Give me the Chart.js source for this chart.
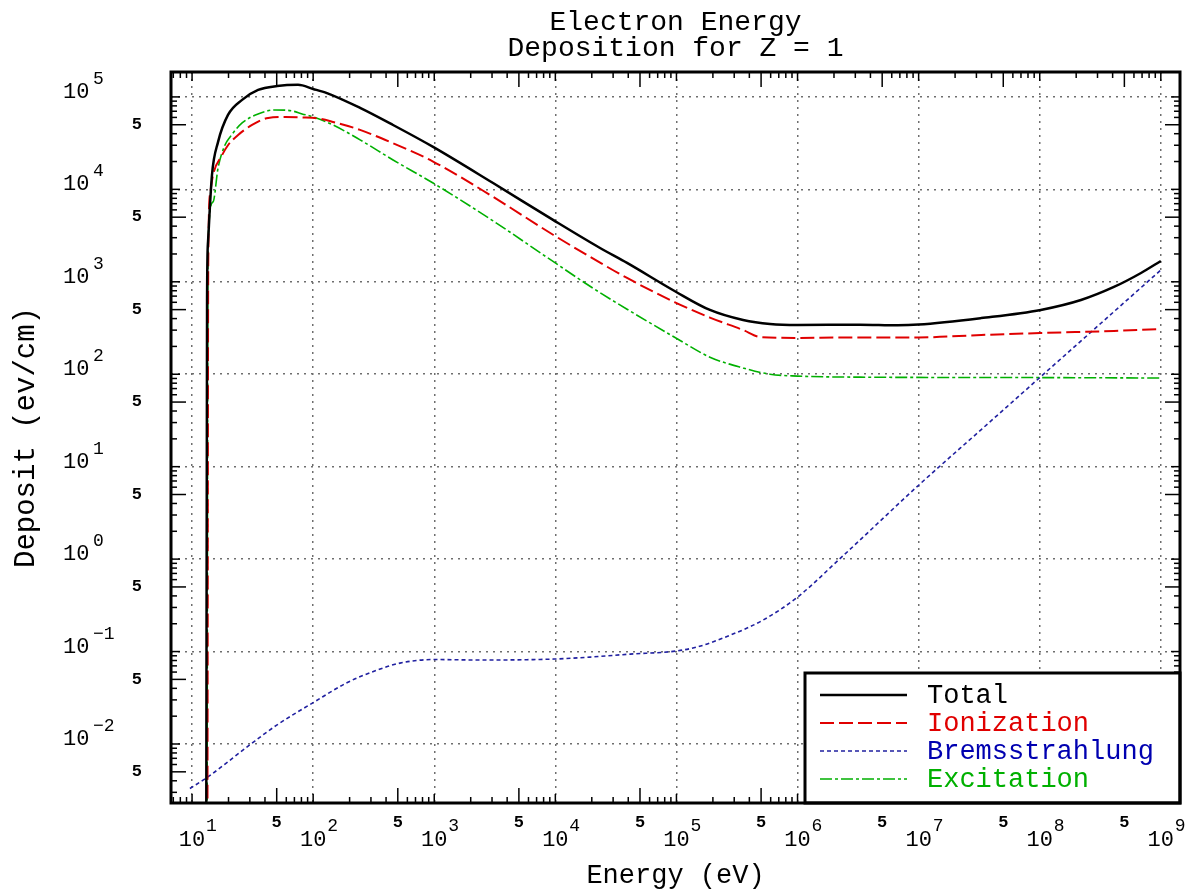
<!DOCTYPE html>
<html>
<head>
<meta charset="utf-8">
<title>Electron Energy Deposition for Z = 1</title>
<script src="https://cdn.jsdelivr.net/npm/chart.js@4.4.1/dist/chart.umd.min.js"></script>
<style>
  html, body { margin: 0; padding: 0; background: #fff; }
  canvas { display: block; }
</style>
</head>
<body>
<canvas id="chart" width="1199" height="892"></canvas>
<script>
// Values (energy in eV, deposit in eV/cm)
let totalE = [13.1, 13.3, 13.55, 14.6, 16.4, 19.8, 25.9, 35.1, 50.4, 75, 100, 130, 244, 457, 978, 3060, 9570, 23400, 39100, 97300, 189000, 355000, 593000, 1e6, 3.28e6, 6.7e6, 1e7, 3.29e7, 1.02e8, 2.19e8, 4.1e8, 6.86e8, 1e9];
let totalV = [0.001, 635, 2700, 14300, 32600, 63800, 92900, 119000, 131000, 135000, 122000, 110000, 76100, 49700, 28800, 11700, 4670, 2320, 1600, 790, 496, 386, 349, 340, 344, 339, 345, 405, 496, 635, 879, 1245, 1680];

let ionE = [13.4, 13.6, 14.1, 14.9, 17.7, 19.8, 24, 31.3, 42.5, 58.6, 81, 114, 146, 244, 457, 978, 3060, 9570, 23400, 39100, 97300, 189000, 355000, 490000, 1e6, 2.4e6, 1e7, 3.29e7, 1.02e8, 4.1e8, 1e9];
let ionV = [0.001, 1500, 9000, 14300, 23500, 30000, 38800, 49700, 59300, 60800, 60000, 58000, 53600, 44000, 31500, 20000, 8300, 3230, 1610, 1100, 600, 410, 301, 253, 247, 250, 250, 266, 279, 294, 309];

let bremE = [9.6, 13.5, 30, 50, 100, 190, 337, 521, 980, 2390, 9770, 19400, 41400, 97300, 148000, 277000, 519000, 1e6, 2.22e6, 1e7, 3.29e7, 1e8, 3.2e8, 1e9];
let bremV = [0.0033, 0.0044, 0.0098, 0.016, 0.028, 0.046, 0.063, 0.075, 0.082, 0.081, 0.083, 0.0871, 0.0938, 0.101, 0.112, 0.150, 0.219, 0.388, 1.0, 6.3, 25.2, 92, 356, 1340];

let excE = [13.3, 13.55, 14.9, 16.4, 18.7, 20.6, 25.9, 35.1, 48.4, 67, 81, 100, 146, 244, 457, 978, 3060, 9570, 20500, 39100, 97300, 189000, 355000, 593000, 1e6, 3.28e6, 1e8, 1e9];
let excV = [0.001, 2700, 7310, 17100, 30200, 36900, 52300, 65500, 72300, 70500, 65500, 60800, 49700, 34300, 20800, 11700, 4560, 1660, 851, 505, 250, 153, 117, 100, 95.5, 93, 92, 91];

// Axis ranges and labelled decades
let xMin = 6.7, xMax = 1.44e9;
let yMin = 2.3e-3, yMax = 1.86e5;
let xDecades = [1, 2, 3, 4, 5, 6, 7, 8, 9];
let yDecades = [-2, -1, 0, 1, 2, 3, 4, 5];

let fontFam = "'Liberation Mono', 'DejaVu Sans Mono', monospace";
let supDigits = { '0': '0', '1': '1', '2': '2', '3': '3', '4': '4', '5': '5', '6': '6', '7': '7', '8': '8', '9': '9', '-': '\u2212' };

function toPoints(es, vs) {
    return es.map((e, i) => ({ x: e, y: vs[i] }));
}

// all 1..9 x 10^n values inside the range, used for ticks
function logTicks(min, max) {
    let out = [];
    for (let e = Math.floor(Math.log10(min)); e <= Math.ceil(Math.log10(max)); e++) {
        for (let m = 1; m <= 9; m++) {
            let v = m * Math.pow(10, e);
            if (v >= min && v <= max) out.push({ value: v });
        }
    }
    return out;
}

function mantissa(v) {
    let e = Math.floor(Math.log10(v) + 1e-9);
    return Math.round(v / Math.pow(10, e));
}

function isDecade(v) {
    return v > 0 && mantissa(v) === 1;
}

function tickLen(v) {
    let m = mantissa(v);
    if (m === 5) return 15;
    if (m === 1) return 9;
    return 6;
}

function drawLine(ctx, x1, y1, x2, y2) {
    ctx.beginPath();
    ctx.moveTo(x1, y1);
    ctx.lineTo(x2, y2);
    ctx.stroke();
}

function supText(e) {
    return String(e).split('').map(c => supDigits[c]).join('');
}

// frame with inward ticks, decade labels, title and legend box
let framePlugin = {
    id: 'frame',
    afterDatasetsDraw(chart) {
        let ctx = chart.ctx;
        let a = chart.chartArea;
        let xs = chart.scales.x, ys = chart.scales.y;
        ctx.save();
        ctx.strokeStyle = '#000';
        ctx.lineWidth = 1.5;
        xs.ticks.forEach(t => {
            let px = xs.getPixelForValue(t.value);
            let len = tickLen(t.value);
            drawLine(ctx, px, a.bottom, px, a.bottom - len);
            drawLine(ctx, px, a.top, px, a.top + len);
        });
        ys.ticks.forEach(t => {
            let py = ys.getPixelForValue(t.value);
            let len = tickLen(t.value);
            drawLine(ctx, a.left, py, a.left + len, py);
            drawLine(ctx, a.right, py, a.right - len, py);
        });

        // legend
        let bw = 375, bh = 130;
        let bx = a.right - bw, by = a.bottom - bh;
        ctx.fillStyle = '#fff';
        ctx.fillRect(bx, by, bw, bh);
        let legendColors = ['#000000', '#e00000', '#0000b0', '#00b000'];
        chart.data.datasets.forEach((ds, i) => {
            let yy = by + 22 + i * 28;
            ctx.save();
            ctx.strokeStyle = ds.borderColor;
            ctx.lineWidth = ds.borderWidth;
            ctx.setLineDash(ds.borderDash || []);
            drawLine(ctx, bx + 15, yy, bx + 102, yy);
            ctx.restore();
            ctx.fillStyle = legendColors[i];
            ctx.font = '27px ' + fontFam;
            ctx.textAlign = 'left';
            ctx.textBaseline = 'middle';
            ctx.fillText(ds.label, bx + 122, yy + 1);
        });
        ctx.lineWidth = 3;
        ctx.strokeRect(bx, by, bw, bh);
        ctx.strokeRect(a.left, a.top, a.width, a.height);
        ctx.restore();
    },
    afterDraw(chart) {
        let ctx = chart.ctx;
        let a = chart.chartArea;
        let xs = chart.scales.x, ys = chart.scales.y;
        ctx.save();
        ctx.fillStyle = '#000';
        ctx.textBaseline = 'alphabetic';

        // energy decades: 10 centred on the tick, exponent raised
        xDecades.forEach(e => {
            let px = xs.getPixelForValue(Math.pow(10, e));
            ctx.font = '22px ' + fontFam;
            ctx.textAlign = 'center';
            ctx.fillText('10', px, 846);
            ctx.font = '18px ' + fontFam;
            ctx.textAlign = 'left';
            ctx.fillText(supText(e), px + 14, 831);
        });

        // deposit decades: 10 left aligned at a common column
        yDecades.forEach(e => {
            let py = ys.getPixelForValue(Math.pow(10, e));
            ctx.font = '22px ' + fontFam;
            ctx.textAlign = 'left';
            ctx.fillText('10', 63, py + 1);
            ctx.font = '18px ' + fontFam;
            ctx.fillText(supText(e), 93, py - 13);
        });

        // title
        let cx = (a.left + a.right) / 2;
        ctx.font = '28px ' + fontFam;
        ctx.textAlign = 'center';
        ctx.fillText('Electron Energy', cx, 30);
        ctx.fillText('Deposition for Z = 1', cx, 56);
        ctx.restore();
    }
};

let ctx = document.getElementById('chart').getContext('2d');

new Chart(ctx, {
    type: 'line',
    data: {
        datasets: [
            {
                label: 'Total',
                data: toPoints(totalE, totalV),
                borderColor: '#000000',
                borderWidth: 2.5,
                pointRadius: 0,
                fill: false,
                cubicInterpolationMode: 'monotone'
            },
            {
                label: 'Ionization',
                data: toPoints(ionE, ionV),
                borderColor: '#e00000',
                borderWidth: 2,
                borderDash: [14, 5],
                pointRadius: 0,
                fill: false,
                cubicInterpolationMode: 'monotone'
            },
            {
                label: 'Bremsstrahlung',
                data: toPoints(bremE, bremV),
                borderColor: '#2020a0',
                borderWidth: 1.6,
                borderDash: [4, 3],
                pointRadius: 0,
                fill: false,
                cubicInterpolationMode: 'monotone'
            },
            {
                label: 'Excitation',
                data: toPoints(excE, excV),
                borderColor: '#00b000',
                borderWidth: 1.6,
                borderDash: [12, 3, 3, 3],
                pointRadius: 0,
                fill: false,
                cubicInterpolationMode: 'monotone'
            }
        ]
    },
    options: {
        responsive: false,
        animation: false,
        devicePixelRatio: 1,
        layout: { padding: { top: 72, right: 19, left: 0, bottom: 0 } },
        plugins: {
            legend: { display: false },
            tooltip: { enabled: false },
            title: { display: false }
        },
        scales: {
            x: {
                type: 'logarithmic',
                min: xMin,
                max: xMax,
                afterBuildTicks: scale => { scale.ticks = logTicks(xMin, xMax); },
                afterFit: scale => { scale.height = 89; },
                ticks: {
                    autoSkip: false,
                    maxRotation: 0,
                    padding: 10,
                    color: '#000',
                    font: { family: fontFam, size: 17, weight: 'bold' },
                    callback: v => mantissa(v) === 5 ? '5' : ''
                },
                grid: {
                    drawTicks: false,
                    lineWidth: 1.5,
                    color: c => (c.tick && isDecade(c.tick.value)) ? '#6e6e6e' : 'rgba(0,0,0,0)'
                },
                border: { display: false, dash: [2, 5] },
                title: {
                    display: true,
                    text: 'Energy (eV)',
                    color: '#000',
                    font: { family: fontFam, size: 27 },
                    padding: 0
                }
            },
            y: {
                type: 'logarithmic',
                min: yMin,
                max: yMax,
                afterBuildTicks: scale => { scale.ticks = logTicks(yMin, yMax); },
                afterFit: scale => { scale.width = 171; },
                ticks: {
                    autoSkip: false,
                    padding: 29,
                    color: '#000',
                    font: { family: fontFam, size: 17, weight: 'bold' },
                    callback: v => mantissa(v) === 5 ? '5' : ''
                },
                grid: {
                    drawTicks: false,
                    lineWidth: 1.5,
                    color: c => (c.tick && isDecade(c.tick.value)) ? '#6e6e6e' : 'rgba(0,0,0,0)'
                },
                border: { display: false, dash: [2, 5] },
                title: {
                    display: true,
                    text: 'Deposit (ev/cm)',
                    color: '#000',
                    font: { family: fontFam, size: 29 },
                    padding: { top: 9, bottom: 0 }
                }
            }
        }
    },
    plugins: [framePlugin]
});
</script>
</body>
</html>
